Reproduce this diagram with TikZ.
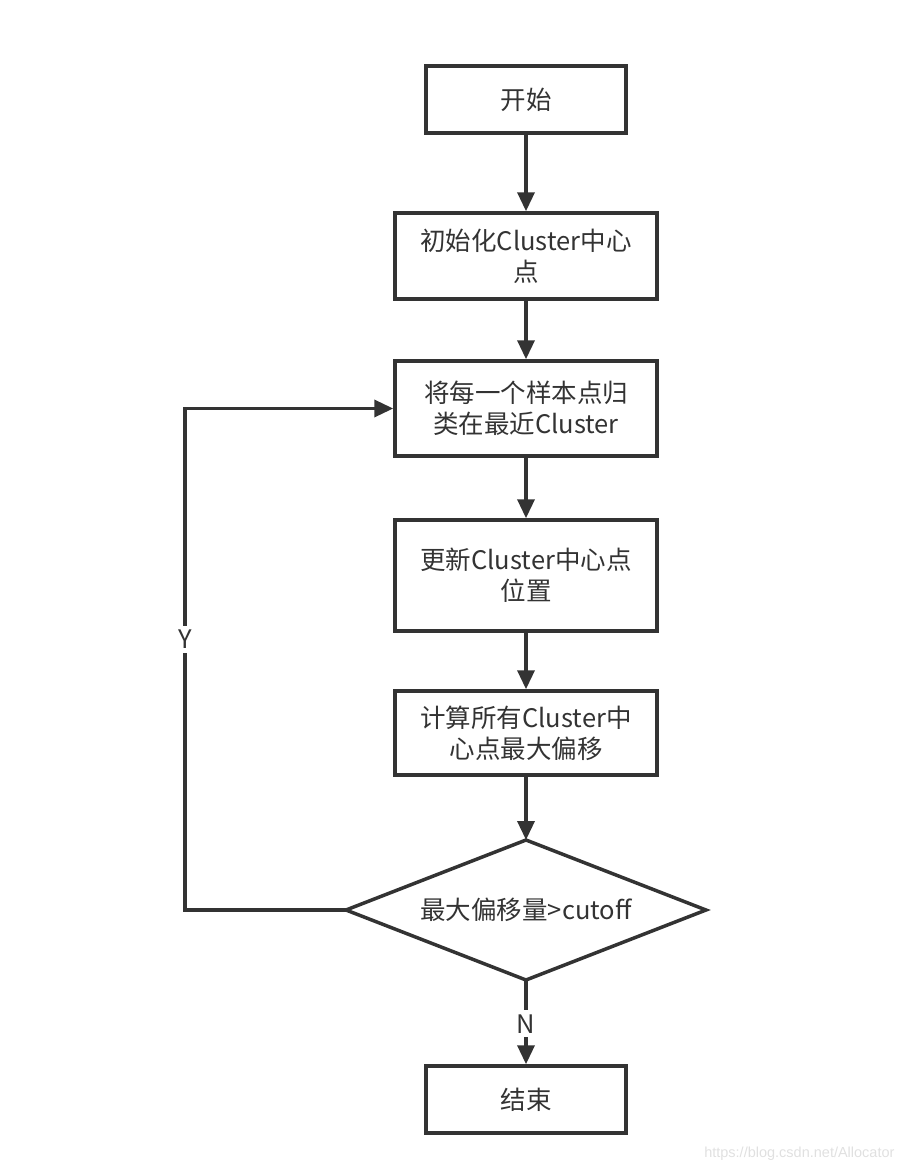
\documentclass[tikz,border=0pt]{standalone}
\usepackage{fontspec}
\setmainfont{Noto Sans CJK SC}
\newfontfamily\wmfont{Liberation Sans}
\usetikzlibrary{arrows.meta}
\definecolor{ink}{HTML}{333333}
\begin{document}
\begin{tikzpicture}[x=1pt,y=-1pt,
  every node/.style={text=ink,font=\fontsize{25.5}{31}\selectfont},
  box/.style={draw=ink,line width=3.5pt,rectangle,inner sep=0pt,align=center},
  edge/.style={draw=ink,line width=3.5pt,line join=miter},
  flow/.style={edge,-{Triangle[length=19pt,width=17pt]}},
  lab/.style={fill=white,inner sep=4pt}]
\useasboundingbox (0,0) rectangle (908,1172);
\node[box,minimum width=200pt,minimum height=67pt] (start) at (526,99.5) {开始};
\node[box,minimum width=262pt,minimum height=86pt] (init) at (526,256) {初始化Cluster中心\\点};
\node[box,minimum width=262pt,minimum height=95pt] (assign) at (526,408.5) {将每一个样本点归\\类在最近Cluster};
\node[box,minimum width=262pt,minimum height=111pt] (update) at (526,575.5) {更新Cluster中心点\\位置};
\node[box,minimum width=262pt,minimum height=84pt] (comp) at (526,733) {计算所有Cluster中\\心点最大偏移};
\node (dec) at (526,910) {最大偏移量>cutoff};
\coordinate (dtop) at (526,840);
\coordinate (dright) at (706,910);
\coordinate (dbot) at (526,980);
\coordinate (dleft) at (346,910);
\draw[edge] (dtop) -- (dright) -- (dbot) -- (dleft) -- cycle;
\node[box,minimum width=200pt,minimum height=67pt] (end) at (526,1099.5) {结束};
\coordinate (c1) at (185,910);
\coordinate (c2) at (185,408.5);
\draw[flow] (start) -- (init);
\draw[flow] (init) -- (assign);
\draw[flow] (assign) -- (update);
\draw[flow] (update) -- (comp);
\draw[flow] (comp) -- (dtop);
\draw[flow] (dbot) -- node[lab,pos=0.52] {N} (end);
\draw[edge,-{Triangle[length=19pt,width=17pt]}] (dleft) -- (c1) -- node[lab,pos=0.54] {Y} (c2) -- (assign.west);
\node[font=\wmfont\fontsize{14.5}{16}\selectfont,text=black!12,anchor=east] (wm) at (898,1154) {https://blog.csdn.net/Allocator};
\end{tikzpicture}
\end{document}
